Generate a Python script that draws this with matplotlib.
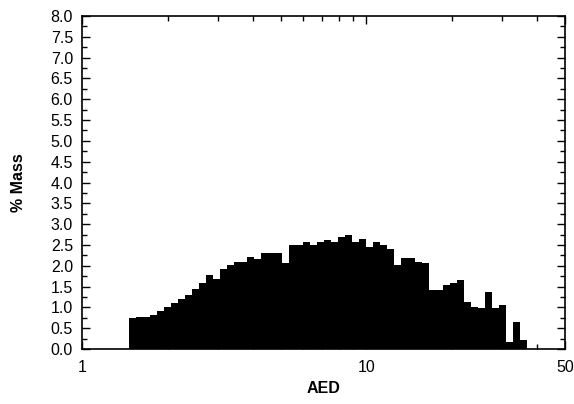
import numpy as np
import matplotlib
matplotlib.use("Agg")
import matplotlib.pyplot as plt
from matplotlib.ticker import FixedLocator, NullFormatter, MultipleLocator, FormatStrFormatter

plt.rcParams['font.family'] = ['Liberation Sans', 'DejaVu Sans']

# size channels (log spaced), lower edge of first and upper edge of last bin
d_lo = 1.46
d_hi = 36.7
n_bins = 57

# % mass per channel
mass = [0.74, 0.78, 0.78, 0.81, 0.91, 1.01, 1.10, 1.21, 1.30, 1.45,
        1.58, 1.77, 1.69, 1.93, 2.01, 2.09, 2.09, 2.21, 2.17, 2.30,
        2.30, 2.30, 2.06, 2.49, 2.49, 2.56, 2.49, 2.56, 2.61, 2.57,
        2.69, 2.73, 2.56, 2.64, 2.45, 2.56, 2.49, 2.41, 2.01, 2.18,
        2.18, 2.10, 2.06, 1.42, 1.42, 1.54, 1.58, 1.65, 1.14, 1.02,
        0.98, 1.38, 0.98, 1.06, 0.18, 0.66, 0.22]

x_major = [1, 10, 50]
x_minor = [2, 3, 4, 5, 6, 7, 8, 9, 20, 30, 40]

edges = np.geomspace(d_lo, d_hi, n_bins + 1)

fig = plt.figure(figsize=(5.74, 4.04), dpi=100)
ax = fig.add_axes([0.1429, 0.1361, 0.8415, 0.8243])

ax.bar(edges[:-1], mass, width=np.diff(edges), align='edge',
       color='black', edgecolor='none', linewidth=0)

ax.set_xscale('log')
ax.set_xlim(1, 50)
ax.set_ylim(0, 8)

ax.xaxis.set_major_locator(FixedLocator(x_major))
ax.xaxis.set_minor_locator(FixedLocator(x_minor))
ax.xaxis.set_major_formatter(FormatStrFormatter('%g'))
ax.xaxis.set_minor_formatter(NullFormatter())
ax.yaxis.set_major_locator(MultipleLocator(0.5))
ax.yaxis.set_minor_locator(MultipleLocator(0.25))
ax.yaxis.set_major_formatter(FormatStrFormatter('%.1f'))

ax.tick_params(which='both', direction='in', top=True, right=True,
               width=1.0, labelsize=11.5)
ax.tick_params(which='major', length=6)
ax.tick_params(which='minor', length=3.5)
ax.tick_params(axis='x', pad=8)
ax.tick_params(axis='y', pad=6.5)

for s in ax.spines.values():
    s.set_linewidth(1.2)

ax.set_xlabel('AED', fontweight='bold', fontsize=11.5, labelpad=4)
ax.set_ylabel('% Mass', fontweight='bold', fontsize=11.5, labelpad=18)

plt.savefig('out.png', dpi=100)
